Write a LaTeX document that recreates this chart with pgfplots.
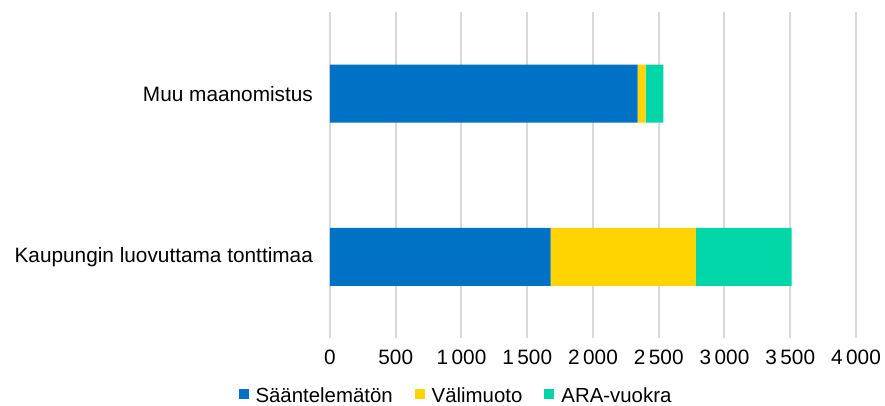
\documentclass[border=0pt]{standalone}
\usepackage{fontspec}
\setmainfont{Liberation Sans}
\usepackage{pgfplots}
\pgfplotsset{compat=1.18}

\definecolor{cblue}{RGB}{0,114,198}
\definecolor{cyellow}{RGB}{255,212,0}
\definecolor{cgreen}{RGB}{0,214,168}
\definecolor{cgrid}{RGB}{217,217,217}

\begin{document}
\begin{tikzpicture}
\begin{axis}[
  xbar stacked,
  scale only axis,
  width=263pt,
  height=163.25pt,
  bar width=29pt,
  xmin=0, xmax=4000,
  ymin=-0.5, ymax=1.5,
  xtick={0,500,...,4000},
  ytick={0,1},
  yticklabels={Kaupungin luovuttama tonttimaa, Muu maanomistus},
  axis line style={draw=none},
  major tick length=0pt,
  xmajorgrids=true,
  grid style={cgrid, line width=1pt},
  /pgf/number format/assume math mode=true,
  /pgf/number format/1000 sep={\,},
  tick label style={font=\fontsize{10.4}{12}\selectfont},
  xticklabel style={yshift=-2pt},
  yticklabel style={xshift=-5pt},
  legend columns=-1,
  legend style={
    at={(0.2414,-0.179)}, anchor=center,
    draw=none, fill=none,
    font=\fontsize{10.2}{12}\selectfont,
    /tikz/every odd column/.append style={column sep=1.5pt},
    /tikz/every even column/.append style={column sep=9pt},
  },
  legend image code/.code={\fill[#1] (0pt,-1pt) rectangle (5pt,4pt);},
]
\addplot[fill=cblue, draw=none] coordinates {(1677,0) (2340,1)};
\addplot[fill=cyellow, draw=none] coordinates {(1106,0) (61,1)};
\addplot[fill=cgreen, draw=none] coordinates {(727,0) (135,1)};
\legend{Sääntelemätön, Välimuoto, ARA-vuokra}
\end{axis}
\pgfresetboundingbox
\useasboundingbox (-165pt,-33.75pt) rectangle (277.5pt,169.25pt);
\end{tikzpicture}
\end{document}
